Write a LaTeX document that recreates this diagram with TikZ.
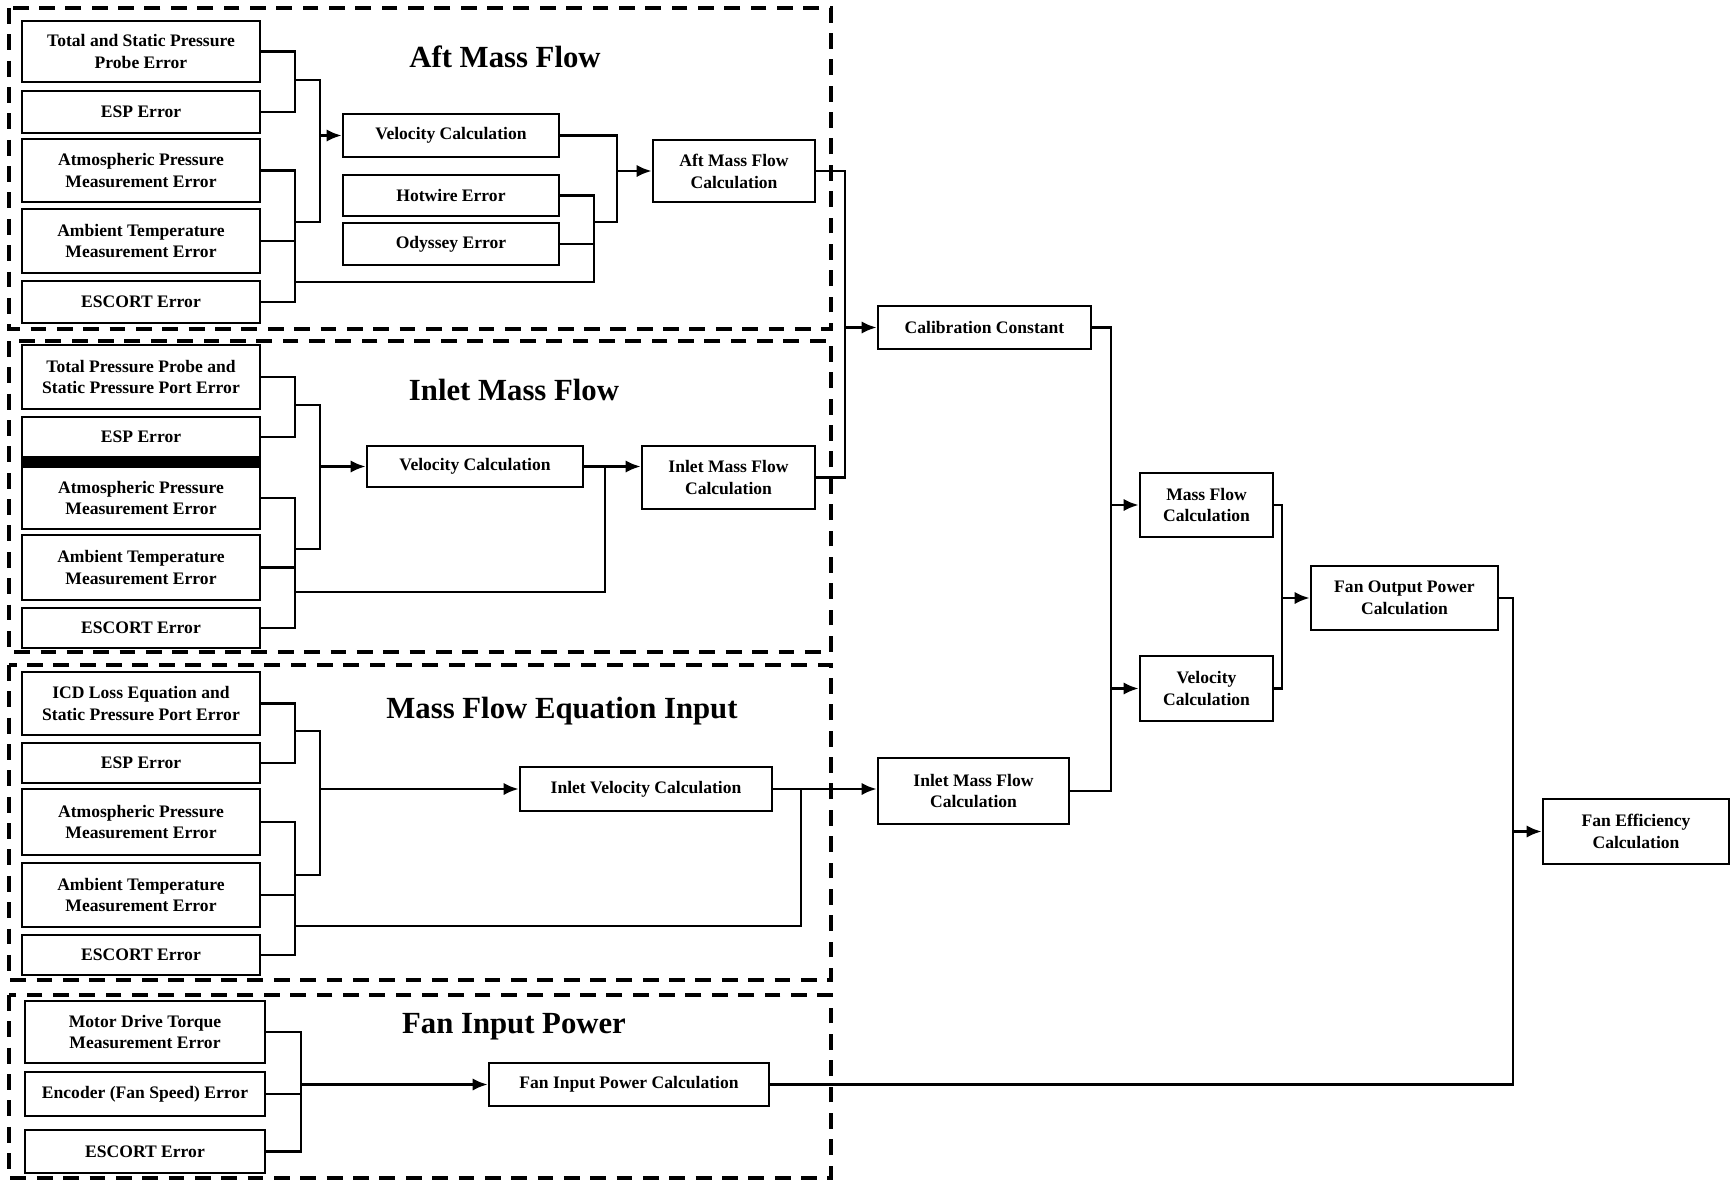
\documentclass[tikz,border=0pt]{standalone}
\usepackage{fontspec}
\setmainfont{Liberation Serif}
\usetikzlibrary{arrows.meta}
\tikzset{
  blk/.style={draw,line width=1.6pt,align=center,inner sep=1pt,
    font=\fontsize{10}{12.5}\selectfont\bfseries},
  errbox/.style={blk,minimum width=4.76cm},
  group/.style={line width=2.2pt,dash pattern=on 9pt off 6pt},
  ttl/.style={font=\fontsize{17.5}{20}\selectfont\bfseries},
  wire/.style={line width=1.5pt}
}
\begin{document}
\begin{tikzpicture}[>={Latex[length=8.5pt,width=7pt]},x=0.02cm,y=-0.02cm]
\useasboundingbox (0,0) rectangle (1732,1181);
\draw[group] (9,8) rectangle (831,329);
\node[ttl] (tAft) at (505,57) {Aft Mass Flow};
\node[errbox,minimum height=1.22cm] (a1) at (141,51.5) {Total and Static Pressure\\Probe Error};
\node[errbox,minimum height=.84cm] (a2) at (141,112) {ESP Error};
\node[errbox,minimum height=1.26cm] (a3) at (141,170.5) {Atmospheric Pressure\\Measurement Error};
\node[errbox,minimum height=1.28cm] (a4) at (141,241) {Ambient Temperature\\Measurement Error};
\node[errbox,minimum height=.84cm] (a5) at (141,302) {ESCORT Error};
\node[blk,minimum width=4.32cm,minimum height=.86cm] (aVel) at (451,135.5) {Velocity Calculation};
\node[blk,minimum width=4.32cm,minimum height=.82cm] (aHot) at (451,195.5) {Hotwire Error};
\node[blk,minimum width=4.32cm,minimum height=.84cm] (aOdy) at (451,244) {Odyssey Error};
\node[blk,minimum width=3.24cm,minimum height=1.24cm] (aMass) at (734,171) {Aft Mass Flow\\Calculation};
\coordinate (ja1) at (295,80);
\coordinate (ja2) at (295,222);
\coordinate (ja3) at (320,135.5);
\coordinate (ja4) at (295,282);
\coordinate (ja5) at (594,222);
\coordinate (ja6) at (617,171);
\draw[wire] (a1.east) -| (ja1) |- (a2.east);
\draw[wire] (a3.east) -| (ja2) |- (a5.east);
\draw[wire] (a4.east) -- (a4.east -| ja2);
\draw[wire] (ja1) -| (ja3) |- (ja2);
\draw[wire,->] (ja3) -- (aVel.west);
\draw[wire] (ja4) -| (ja5);
\draw[wire] (aHot.east) -| (ja5);
\draw[wire] (aOdy.east) -- (aOdy.east -| ja5);
\draw[wire] (aVel.east) -| (ja6) |- (ja5);
\draw[wire,->] (ja6) -- (aMass.west);

\draw[group] (9,341) rectangle (831,652);
\node[ttl] (tInlet) at (514,390) {Inlet Mass Flow};
\node[errbox,minimum height=1.28cm] (b1) at (141,377) {Total Pressure Probe and\\Static Pressure Port Error};
\node[errbox,minimum height=.80cm] (b2) at (141,437) {ESP Error};
\node[errbox,minimum height=1.24cm] (b3) at (141,498) {Atmospheric Pressure\\Measurement Error};
\node[errbox,minimum height=1.30cm] (b4) at (141,567.5) {Ambient Temperature\\Measurement Error};
\node[errbox,minimum height=.80cm] (b5) at (141,628) {ESCORT Error};
\fill (b2.south west) rectangle (b3.north east);
\node[blk,minimum width=4.32cm,minimum height=.82cm] (bVel) at (475,466.5) {Velocity Calculation};
\node[blk,minimum width=3.46cm,minimum height=1.26cm] (bMass) at (728.5,477.5) {Inlet Mass Flow\\Calculation};
\coordinate (jb1) at (295,405);
\coordinate (jb2) at (295,549);
\coordinate (jb3) at (320,466.5);
\coordinate (jb4) at (295,592);
\coordinate (jb5) at (605,466.5);
\draw[wire] (b1.east) -| (jb1) |- (b2.east);
\draw[wire] (b3.east) -| (jb2) |- (b5.east);
\draw[wire] (b4.east) -- (b4.east -| jb2);
\draw[wire] (jb1) -| (jb3) |- (jb2);
\draw[wire,->] (jb3) -- (bVel.west);
\draw[wire,->] (bVel.east) -- (bVel.east -| bMass.west);
\draw[wire] (jb4) -| (jb5);

\draw[group] (9,665) rectangle (831,980);
\node[ttl] (tEqn) at (562,711) {Mass Flow Equation Input};
\node[errbox,minimum height=1.26cm] (c1) at (141,703.5) {ICD Loss Equation and\\Static Pressure Port Error};
\node[errbox,minimum height=.80cm] (c2) at (141,763) {ESP Error};
\node[errbox,minimum height=1.32cm] (c3) at (141,822) {Atmospheric Pressure\\Measurement Error};
\node[errbox,minimum height=1.28cm] (c4) at (141,895) {Ambient Temperature\\Measurement Error};
\node[errbox,minimum height=.80cm] (c5) at (141,955) {ESCORT Error};
\node[blk,minimum width=5.04cm,minimum height=.88cm] (cVel) at (646,789) {Inlet Velocity Calculation};
\coordinate (jc1) at (295,731);
\coordinate (jc2) at (295,875);
\coordinate (jc3) at (320,789);
\coordinate (jc4) at (295,926);
\coordinate (jc5) at (801,789);
\draw[wire] (c1.east) -| (jc1) |- (c2.east);
\draw[wire] (c3.east) -| (jc2) |- (c5.east);
\draw[wire] (c4.east) -- (c4.east -| jc2);
\draw[wire] (jc1) -| (jc3) |- (jc2);
\draw[wire,->] (jc3) -- (cVel.west);
\draw[wire] (jc4) -| (jc5);

\draw[group] (9,995) rectangle (831,1178);
\node[ttl] (tFan) at (514,1027) {Fan Input Power};
\node[errbox,minimum width=4.8cm,minimum height=1.24cm] (d1) at (145,1032) {Motor Drive Torque\\Measurement Error};
\node[errbox,minimum width=4.8cm,minimum height=.88cm] (d2) at (145,1094) {Encoder (Fan Speed) Error};
\node[errbox,minimum width=4.8cm,minimum height=.86cm] (d3) at (145,1151.5) {ESCORT Error};
\node[blk,minimum width=5.6cm,minimum height=.86cm] (dPow) at (629,1084.5) {Fan Input Power Calculation};
\coordinate (jd1) at (301,1084.5);
\draw[wire] (d1.east) -| (jd1) |- (d3.east);
\draw[wire] (d2.east) -- (d2.east -| jd1);
\draw[wire,->] (jd1) -- (dPow.west);

\node[blk,minimum width=4.26cm,minimum height=.86cm] (calib) at (984.5,327.5) {Calibration Constant};
\node[blk,minimum width=3.82cm,minimum height=1.32cm] (inMass) at (973.5,791) {Inlet Mass Flow\\Calculation};
\node[blk,minimum width=2.66cm,minimum height=1.28cm] (massFlow) at (1206.5,505) {Mass Flow\\Calculation};
\node[blk,minimum width=2.66cm,minimum height=1.30cm] (vel) at (1206.5,688.5) {Velocity\\Calculation};
\node[blk,minimum width=3.74cm,minimum height=1.28cm] (fanOut) at (1404.5,598) {Fan Output Power\\Calculation};
\node[blk,minimum width=3.72cm,minimum height=1.30cm] (fanEff) at (1636,831.5) {Fan Efficiency\\Calculation};
\coordinate (jr1) at (845,327.5);
\coordinate (jr2) at (1111,505);
\coordinate (jr3) at (1111,688.5);
\coordinate (jr4) at (1282,598);
\coordinate (jr5) at (1513,831.5);
\draw[wire] (aMass.east) -| (jr1) |- (bMass.east);
\draw[wire,->] (jr1) -- (calib.west);
\draw[wire,->] (cVel.east) -- (cVel.east -| inMass.west);
\draw[wire] (calib.east) -| (jr2) -- (jr3) |- (inMass.east);
\draw[wire,->] (jr2) -- (massFlow.west);
\draw[wire,->] (jr3) -- (vel.west);
\draw[wire] (massFlow.east) -| (jr4) |- (vel.east);
\draw[wire,->] (jr4) -- (fanOut.west);
\draw[wire] (fanOut.east) -| (jr5) |- (dPow.east);
\draw[wire,->] (jr5) -- (fanEff.west);
\end{tikzpicture}
\end{document}
